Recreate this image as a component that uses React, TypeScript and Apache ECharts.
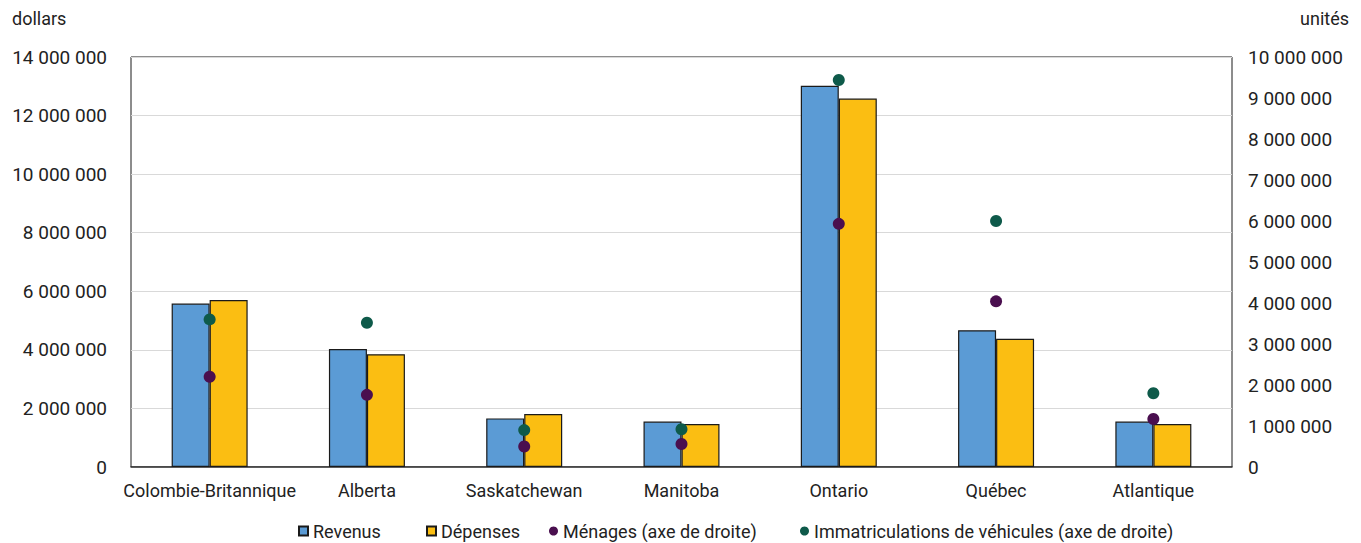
import React, { useEffect, useRef } from "react";
import * as echarts from "echarts";

const regions = [
  "Colombie-Britannique",
  "Alberta",
  "Saskatchewan",
  "Manitoba",
  "Ontario",
  "Québec",
  "Atlantique",
];
const revenus = [5580000, 4030000, 1660000, 1550000, 13020000, 4670000, 1550000];
const depenses = [5700000, 3850000, 1810000, 1470000, 12580000, 4380000, 1470000];
const menages = [2200000, 1760000, 500000, 560000, 5930000, 4040000, 1170000];
const immatriculations = [3600000, 3520000, 900000, 920000, 9440000, 6000000, 1800000];

const FONT = "'Roboto', 'Liberation Sans', sans-serif";
const TEXT = "#222222";

const spaced = (v: number) =>
  String(Math.round(v)).replace(/\B(?=(\d{3})+(?!\d))/g, " ");

// one legend block per entry so each can sit at its own position
const legendEntries = [
  { name: "Revenus", icon: "rect", left: 290 },
  { name: "Dépenses", icon: "rect", left: 418 },
  { name: "Ménages (axe de droite)", icon: "circle", left: 541 },
  { name: "Immatriculations de véhicules (axe de droite)", icon: "circle", left: 792 },
];

export default function App() {
  const ref = useRef<HTMLDivElement>(null);

  useEffect(() => {
    if (!ref.current) return;
    const chart = echarts.init(ref.current, null, { renderer: "svg" });
    chart.setOption({
      animation: false,
      backgroundColor: "#ffffff",
      textStyle: { fontFamily: FONT },
      grid: {
        left: 123,
        right: 121,
        top: 49,
        bottom: 76,
        show: true,
        borderColor: "#1a1a1a",
        borderWidth: 1,
      },
      legend: legendEntries.map((e) => ({
        left: e.left,
        top: 514,
        itemWidth: 9,
        itemHeight: 9,
        padding: 0,
        textStyle: { fontFamily: FONT, fontSize: 18, color: TEXT },
        data: [{ name: e.name, icon: e.icon }],
        selectedMode: false,
      })),
      graphic: [
        {
          type: "text",
          left: 4,
          top: 1,
          style: { text: "dollars", fontFamily: FONT, fontSize: 18, fill: TEXT },
        },
        {
          type: "text",
          right: 4,
          top: 1,
          style: { text: "unités", fontFamily: FONT, fontSize: 18, fill: TEXT },
        },
      ],
      xAxis: {
        type: "category",
        data: regions,
        axisTick: { show: false },
        axisLine: { lineStyle: { color: "#333333", width: 1.5 } },
        axisLabel: {
          interval: 0,
          fontFamily: FONT,
          fontSize: 18,
          color: TEXT,
          margin: 14,
        },
      },
      yAxis: [
        {
          type: "value",
          min: 0,
          max: 14000000,
          interval: 2000000,
          axisLine: { show: false },
          axisTick: { show: false },
          splitLine: { lineStyle: { color: "#d9d9d9", width: 1.2 } },
          axisLabel: {
            fontFamily: FONT,
            fontSize: 19,
            color: TEXT,
            margin: 24,
            formatter: spaced,
          },
        },
        {
          type: "value",
          min: 0,
          max: 10000000,
          interval: 1000000,
          axisLine: { show: false },
          axisTick: { show: false },
          splitLine: { show: false },
          axisLabel: {
            fontFamily: FONT,
            fontSize: 19,
            color: TEXT,
            margin: 16,
            formatter: spaced,
          },
        },
      ],
      series: [
        {
          name: "Revenus",
          type: "bar",
          data: revenus,
          barWidth: 38,
          barGap: "0%",
          itemStyle: { color: "#5b9bd5", borderColor: "#1a1a1a", borderWidth: 1.2 },
        },
        {
          name: "Dépenses",
          type: "bar",
          data: depenses,
          barWidth: 38,
          barGap: "0%",
          itemStyle: { color: "#fbbe12", borderColor: "#1a1a1a", borderWidth: 1.2 },
        },
        {
          name: "Ménages (axe de droite)",
          type: "scatter",
          yAxisIndex: 1,
          data: menages,
          symbolSize: 12,
          itemStyle: { color: "#4a0f4f", opacity: 1 },
          z: 5,
        },
        {
          name: "Immatriculations de véhicules (axe de droite)",
          type: "scatter",
          yAxisIndex: 1,
          data: immatriculations,
          symbolSize: 12,
          itemStyle: { color: "#0e5a4a", opacity: 1 },
          z: 5,
        },
      ],
    });
    return () => chart.dispose();
  }, []);

  return <div ref={ref} style={{ width: 1345, height: 535 }} />;
}
